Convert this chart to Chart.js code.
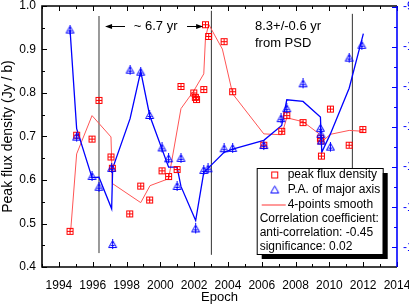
<!DOCTYPE html>
<html>
<head>
<meta charset="utf-8">
<script src="https://cdn.jsdelivr.net/npm/chart.js@4/dist/chart.umd.min.js"></script>
<style>
html,body{margin:0;padding:0;background:#fff;overflow:hidden;}
#wrap{position:relative;width:440px;height:306px;}
</style>
</head>
<body>
<div id="wrap"><canvas id="c"></canvas></div>
<script>
// ---- data ----
const fluxYears = [1994.66,1995.05,1995.96,1996.37,1997.08,1997.16,1998.19,1998.84,1999.37,2000.10,2000.49,2000.99,2001.22,2001.98,2002.07,2002.14,2002.57,2002.67,2002.86,2003.77,2004.28,2006.12,2007.18,2007.48,2008.44,2009.47,2009.50,2009.53,2010.06,2011.17,2011.98];
const fluxValues = [0.482,0.703,0.694,0.783,0.653,0.627,0.522,0.586,0.554,0.621,0.608,0.624,0.815,0.800,0.790,0.785,0.808,0.957,0.930,0.918,0.803,0.680,0.712,0.748,0.732,0.696,0.690,0.655,0.763,0.680,0.716];

const paYears = [1994.66,1995.05,1995.96,1996.37,1997.12,1997.18,1998.21,1998.84,1999.37,2000.10,2000.49,2000.99,2001.22,2002.09,2002.57,2002.82,2003.77,2004.28,2006.12,2007.14,2007.48,2008.44,2009.47,2009.50,2009.53,2010.06,2011.17,2011.92];
const paValues = [-95.8,-122.5,-132.3,-135.0,-130.3,-149.3,-105.8,-106.3,-117.1,-125.2,-127.9,-134.8,-127.8,-145.4,-130.8,-130.4,-125.4,-125.3,-124.6,-117.9,-115.4,-109.2,-120.3,-121.8,-123.5,-125.0,-102.8,-99.6];

const fluxSmoothYears = [1994.70,1995.05,1995.96,1997.08,1997.16,1998.84,1999.39,2000.49,2001.22,2001.98,2002.57,2002.67,2002.86,2003.24,2003.67,2004.28,2006.12,2007.18,2007.48,2008.44,2009.47,2009.55,2010.06,2011.17,2011.98];
const fluxSmoothValues = [0.485,0.660,0.748,0.699,0.592,0.548,0.587,0.603,0.764,0.805,0.844,0.927,0.958,0.931,0.901,0.798,0.706,0.704,0.743,0.734,0.704,0.688,0.705,0.714,0.712];

const paSmoothYears = [1994.66,1995.05,1995.96,1996.37,1997.12,1997.18,1998.21,1998.84,1999.37,2000.49,2000.99,2001.22,2002.09,2002.57,2002.82,2003.77,2004.28,2006.12,2007.18,2007.48,2008.44,2009.47,2009.55,2010.06,2011.17,2012.01];
const paSmoothValues = [-95.8,-120.4,-132.6,-132.5,-140.4,-130.3,-117.9,-106.1,-117.1,-130.0,-130.0,-134.8,-143.3,-131.3,-130.3,-126.3,-125.5,-123.3,-119.6,-113.2,-113.6,-117.5,-126.3,-121.7,-110.3,-96.7];

const periodLineYears  = [1996.37, 2003.02, 2011.36];
const periodLineTop    = [0.977, 0.989, 0.982];
const periodLineBottom = [0.432, 0.428, 0.45];

const xTickLabels = ['1994','1996','1998','2000','2002','2004','2006','2008','2010','2012','2014'];
const yTickLabels = ['0.4','0.5','0.6','0.7','0.8','0.9','1.0'];
const legendLabels = ['peak flux density','P.A. of major axis','4-points smooth'];
const noteLines = ['Correlation coefficient:','anti-correlation: -0.45','significance: 0.02'];
const periodNote = ['~ 6.7 yr'];
const psdNote = ['8.3+/-0.6 yr','from PSD'];

// ---- style ----
const FONT = "'Liberation Sans', Arial, sans-serif";
Chart.defaults.font.family = FONT;
const RED = '#ff0000', BLUE = '#0000ff', SMOOTH_RED = '#ff5555';

function squareMarker(withBar){
  const c = document.createElement('canvas'); c.width = 9; c.height = 9;
  const g = c.getContext('2d'); g.strokeStyle = RED; g.lineWidth = 1;
  g.strokeRect(1.5,1.5,6,6);
  if (withBar){ g.beginPath(); g.moveTo(4.5,1.5); g.lineTo(4.5,7.5); g.moveTo(1.5,4.5); g.lineTo(7.5,4.5); g.stroke(); }
  return c;
}
function triMarker(withBar){
  const c = document.createElement('canvas'); c.width = 11; c.height = 11;
  const g = c.getContext('2d'); g.strokeStyle = BLUE; g.lineWidth = 1;
  g.beginPath(); g.moveTo(5.5,1.5); g.lineTo(1.5,8.5); g.lineTo(9.5,8.5); g.closePath(); g.stroke();
  if (withBar){ g.beginPath(); g.moveTo(5.5,0); g.lineTo(5.5,10); g.moveTo(3.5,6.5); g.lineTo(7.5,6.5); g.stroke(); }
  return c;
}
const sqBar = squareMarker(true), sqPlain = squareMarker(false);
const triBar = triMarker(true), triPlain = triMarker(false);

const zip = (xs, ys) => xs.map((x,i)=>({x, y: ys[i]}));

const datasets = [];
periodLineYears.forEach((yr,i)=>{
  datasets.push({type:'line', data:[{x:yr,y:periodLineBottom[i]},{x:yr,y:periodLineTop[i]}], yAxisID:'y',
    borderColor: i===0 ? '#999999' : '#333333', borderWidth: i===0 ? 2 : 1, pointRadius:0, order:10});
});
datasets.push({type:'line', data: zip(fluxSmoothYears, fluxSmoothValues), yAxisID:'y', borderColor:SMOOTH_RED, borderWidth:1, pointRadius:0, order:5});
datasets.push({type:'line', data: zip(paSmoothYears, paSmoothValues), yAxisID:'y2', borderColor:BLUE, borderWidth:1.3, pointRadius:0, order:4});
datasets.push({type:'scatter', data: zip(fluxYears, fluxValues), yAxisID:'y', pointStyle: sqBar, pointRadius:4, showLine:false, order:2});
datasets.push({type:'scatter', data: zip(paYears, paValues), yAxisID:'y2', pointStyle: triBar, pointRadius:5, showLine:false, order:1});

function seg(ctx,x1,y1,x2,y2){ ctx.beginPath(); ctx.moveTo(x1,y1); ctx.lineTo(x2,y2); ctx.stroke(); }
function arrowHead(ctx, tipX, y, dir){
  ctx.beginPath(); ctx.moveTo(tipX,y); ctx.lineTo(tipX - dir*7, y-2.5); ctx.lineTo(tipX - dir*7, y+2.5); ctx.closePath(); ctx.fill();
}

const framePlugin = {
  id:'frame',
  afterDatasetsDraw(chart){
    const {ctx, chartArea:a, scales} = chart;
    const x = scales.x, y = scales.y, y2 = scales.y2;
    ctx.save();
    ctx.lineWidth = 1; ctx.strokeStyle = '#000';
    for (let yr=1993; yr<=2014; yr++){
      const px = Math.round(x.getPixelForValue(yr)) + 0.5;
      const len = yr%2===0 ? 5 : 3;
      seg(ctx, px, a.bottom, px, a.bottom-len);
      seg(ctx, px, a.top, px, a.top+len);
    }
    for (let k=0; k<=12; k++){
      const v = 0.4 + k*0.05;
      const py = Math.round(y.getPixelForValue(v)) + 0.5;
      seg(ctx, a.left, py, a.left + (k%2===0 ? 5 : 3), py);
    }
    ctx.strokeStyle = BLUE;
    for (let v=-150; v<=-90; v+=5){
      const py = Math.round(y2.getPixelForValue(v)) + 0.5;
      seg(ctx, a.right, py, a.right - (v%10===0 ? 5 : 3), py);
    }
    ctx.lineWidth = 1.6;
    ctx.strokeStyle = '#000';
    ctx.beginPath(); ctx.moveTo(a.right, a.top); ctx.lineTo(a.left, a.top); ctx.lineTo(a.left, a.bottom); ctx.lineTo(a.right, a.bottom); ctx.stroke();
    ctx.strokeStyle = BLUE;
    seg(ctx, a.right, a.top, a.right, a.bottom);

    // annotations
    ctx.fillStyle = '#000'; ctx.strokeStyle = '#000'; ctx.lineWidth = 1;
    ctx.font = '13px ' + FONT; ctx.textBaseline = 'middle';
    const ay = y.getPixelForValue(0.954);
    ctx.textAlign = 'center';
    ctx.fillText(periodNote[0], x.getPixelForValue(1999.72), ay);
    const la = x.getPixelForValue(1996.73), lt = x.getPixelForValue(1997.91);
    seg(ctx, la+5, ay+0.5, lt, ay+0.5); arrowHead(ctx, la, ay+0.5, -1);
    const rt = x.getPixelForValue(2001.58), ra = x.getPixelForValue(2002.53);
    seg(ctx, rt, ay+0.5, ra-5, ay+0.5); arrowHead(ctx, ra, ay+0.5, 1);
    ctx.textAlign = 'left';
    ctx.fillText(psdNote[0], x.getPixelForValue(2005.6), ay);
    ctx.fillText(psdNote[1], x.getPixelForValue(2005.6), y.getPixelForValue(0.915));

    // legend box
    const bx = a.right - 140.3, by = a.bottom - 99, bw = 126, bh = 86;
    ctx.fillStyle = '#000';
    ctx.fillRect(bx + 5, by + 5, bw, bh);
    ctx.fillStyle = '#fff';
    ctx.fillRect(bx, by, bw, bh);
    ctx.strokeStyle = '#000'; ctx.lineWidth = 1;
    ctx.strokeRect(bx+0.5, by+0.5, bw, bh);
    ctx.font = '12px ' + FONT; ctx.fillStyle = '#000'; ctx.textAlign = 'left';
    const rows = [by+7, by+22, by+37];
    ctx.drawImage(sqPlain, bx+18-4.5, rows[0]-4.5);
    ctx.drawImage(triPlain, bx+18-5.5, rows[1]-5.5);
    ctx.strokeStyle = SMOOTH_RED; ctx.lineWidth = 1.2; seg(ctx, bx+5, rows[2], bx+29, rows[2]);
    legendLabels.forEach((t,i)=> ctx.fillText(t, bx+31, rows[i]));
    noteLines.forEach((t,i)=> ctx.fillText(t, bx+3, by+51 + i*14));
    ctx.restore();
  }
};

new Chart(document.getElementById('c'), {
  data: { datasets },
  options: {
    responsive:true, maintainAspectRatio:false, animation:false, devicePixelRatio:1,
    layout:{ padding:{ top:5, left:0, right:0, bottom:0 } },
    plugins:{ legend:{display:false}, tooltip:{enabled:false} },
    scales:{
      x:{ type:'linear', position:'bottom', min:1993, max:2014,
        grid:{display:false, drawTicks:false}, border:{display:false},
        ticks:{ stepSize:1, autoSkip:false, maxRotation:0, padding:11, color:'#000', font:{size:12},
          callback:(v)=> { const s = String(v); return xTickLabels.includes(s) ? s : ''; } },
        title:{ display:true, text:'Epoch', color:'#000', font:{size:13}, padding:{top:0,bottom:1} },
        afterFit:(s)=>{ s.height = 39; s.paddingLeft = 0; s.paddingRight = 0; }
      },
      y:{ type:'linear', position:'left', min:0.4, max:1.0,
        grid:{display:false, drawTicks:false}, border:{display:false},
        ticks:{ stepSize:0.1, padding:6, color:'#000', font:{size:12},
          callback:(v)=> { const s = Number(v).toFixed(1); return yTickLabels.includes(s) ? s : ''; } },
        title:{ display:true, text:'Peak flux density (Jy / b)', color:'#000', font:{size:14}, padding:{top:0,bottom:0} },
        afterFit:(s)=>{ s.width = 42; s.paddingTop = 0; s.paddingBottom = 0; }
      },
      y2:{ type:'linear', position:'right', min:-154.9, max:-89.8,
        grid:{display:false, drawTicks:false}, border:{display:false},
        ticks:{ stepSize:10, includeBounds:false, padding:6, color:BLUE, font:{size:12} },
        afterFit:(s)=>{ s.width = 43; s.paddingTop = 0; s.paddingBottom = 0; }
      }
    }
  },
  plugins:[framePlugin]
});
</script>
</body>
</html>
